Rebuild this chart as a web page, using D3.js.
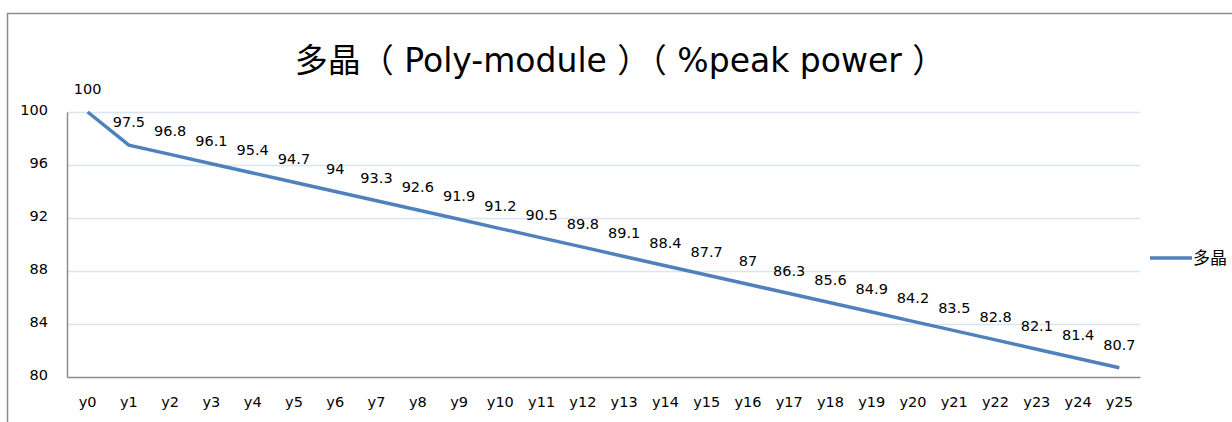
<!DOCTYPE html>
<html>
<head>
<meta charset="utf-8">
<script src="https://cdn.jsdelivr.net/npm/d3@7"></script>
<style>
body{margin:0;background:#fff;}
text{font-family:"DejaVu Sans","Noto Sans CJK SC",sans-serif;fill:#000;}
</style>
</head>
<body>
<div id="chart"></div>
<script>
// datos
var categorias=d3.range(26).map(i=>"y"+i)
var valores=[100,97.5,96.8,96.1,95.4,94.7,94,93.3,92.6,91.9,91.2,90.5,89.8,89.1,88.4,87.7,87,86.3,85.6,84.9,84.2,83.5,82.8,82.1,81.4,80.7]
var ticksY=[80,84,88,92,96,100]
var titulo="多晶（ Poly-module ）（ %peak power ）"
var serie="多晶"

var W=1232,H=422
var margin={top:112,left:67,right:92,bottom:45}
var ancho=W-margin.left-margin.right
var alto=H-margin.top-margin.bottom

var svg1=d3.select("#chart").append("svg")
	.attr("width",W).attr("height",H)

// marco exterior
svg1.append("rect")
	.attr("x",7.5).attr("y",13.5)
	.attr("width",W).attr("height",H)
	.attr("fill","none").attr("stroke","#8c8c8c").attr("stroke-width",1.5)

svg1.append("text")
	.attr("x",620).attr("y",72)
	.attr("text-anchor","middle")
	.style("font-size","33px")
	.text(titulo)

var svg=svg1.append("g")
	.attr("transform","translate("+margin.left+","+margin.top+")")

var escalaX=d3.scaleBand().domain(categorias).range([0,ancho])
var escalaY=d3.scaleLinear().domain([80,100]).range([alto,0])

// grid
svg.selectAll(".grid").data(ticksY.filter(d=>d>80)).enter().append("line")
	.attr("x1",0).attr("x2",ancho)
	.attr("y1",d=>escalaY(d)+0.5).attr("y2",d=>escalaY(d)+0.5)
	.attr("stroke","#dbe5f1").attr("stroke-width",1.5)

var ejeY=svg.append("g")
	.call(d3.axisLeft(escalaY).tickValues(ticksY).tickSize(0).tickPadding(19))
ejeY.select("path").attr("stroke","#8c8c8c").attr("stroke-width",1.5)
ejeY.selectAll("text").style("font-size","14.5px").attr("dy","0.2em")

var ejeX=svg.append("g")
	.attr("transform","translate(0,"+alto+")")
	.call(d3.axisBottom(escalaX).tickSize(0).tickPadding(20))
ejeX.select("path").attr("stroke","#8c8c8c").attr("stroke-width",1.5)
ejeX.selectAll("text").style("font-size","14.5px").style("fill","#000")

var linea=d3.line()
	.x((d,i)=>escalaX(categorias[i])+escalaX.bandwidth()/2)
	.y(d=>escalaY(d))

svg.append("path").datum(valores)
	.attr("d",linea)
	.attr("fill","none").attr("stroke","#4f81bd").attr("stroke-width",3.5)

svg.selectAll(".etiq").data(valores).enter().append("text")
	.attr("x",(d,i)=>escalaX(categorias[i])+escalaX.bandwidth()/2)
	.attr("y",d=>escalaY(d)-18)
	.attr("text-anchor","middle")
	.style("font-size","14.5px")
	.text(d=>d)

// leyenda
var ley=svg1.append("g").attr("transform","translate(1150,258)")
ley.append("line").attr("x1",0).attr("x2",42).attr("y1",0).attr("y2",0)
	.attr("stroke","#4f81bd").attr("stroke-width",3.5)
ley.append("text").attr("x",43).attr("y",6).style("font-size","17px").text(serie)
</script>
</body>
</html>
